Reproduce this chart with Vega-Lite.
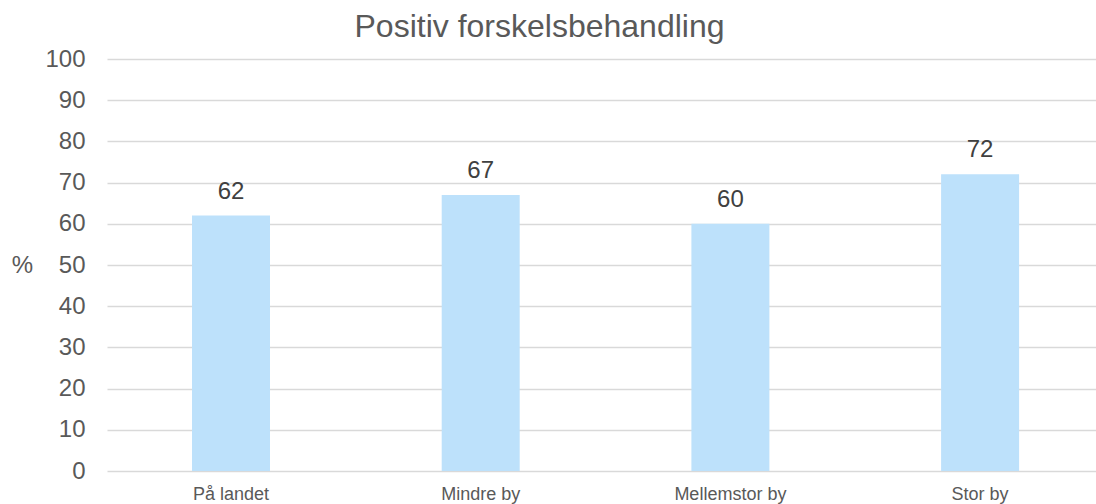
{
  "$schema": "https://vega.github.io/schema/vega-lite/v6.json",
  "width": 989,
  "height": 412,
  "autosize": {"type": "none"},
  "padding": {"left": 107, "top": 59, "right": 0, "bottom": 33},
  "background": "white",
  "config": {"view": {"stroke": null}, "font": "Liberation Sans"},
  "title": {
    "text": "Positiv forskelsbehandling",
    "fontSize": 32,
    "font": "Liberation Sans",
    "fontWeight": "normal",
    "color": "#595959",
    "anchor": "middle",
    "dx": -62,
    "offset": 3
  },
  "data": {
    "values": [
      {"kategori": "På landet", "procent": 62},
      {"kategori": "Mindre by", "procent": 67},
      {"kategori": "Mellemstor by", "procent": 60},
      {"kategori": "Stor by", "procent": 72}
    ]
  },
  "encoding": {
    "x": {
      "field": "kategori",
      "type": "nominal",
      "sort": null,
      "scale": {"paddingInner": 0.6876, "paddingOuter": 0.3242, "align": 0.525},
      "axis": {
        "title": null,
        "labelAngle": 0,
        "domain": false,
        "ticks": false,
        "labelFontSize": 18,
        "labelColor": "#595959",
        "labelPadding": 14
      }
    },
    "y": {
      "field": "procent",
      "type": "quantitative",
      "scale": {"domain": [0, 100]},
      "axis": {
        "title": "%",
        "titleAngle": 0,
        "titleX": -85,
        "titleY": 206,
        "titleAlign": "center",
        "titleBaseline": "middle",
        "titleFontSize": 24,
        "titleFontWeight": "normal",
        "titleColor": "#595959",
        "values": [0, 10, 20, 30, 40, 50, 60, 70, 80, 90, 100],
        "domain": false,
        "ticks": false,
        "labelFontSize": 24,
        "labelColor": "#595959",
        "labelPadding": 22,
        "gridColor": "#D9D9D9",
        "gridWidth": 1.4
      }
    }
  },
  "layer": [
    {"mark": {"type": "bar", "color": "#BDE1FB"}},
    {
      "mark": {"type": "text", "baseline": "alphabetic", "dy": -17, "fontSize": 24, "color": "#404040"},
      "encoding": {"text": {"field": "procent", "type": "quantitative"}}
    }
  ]
}
